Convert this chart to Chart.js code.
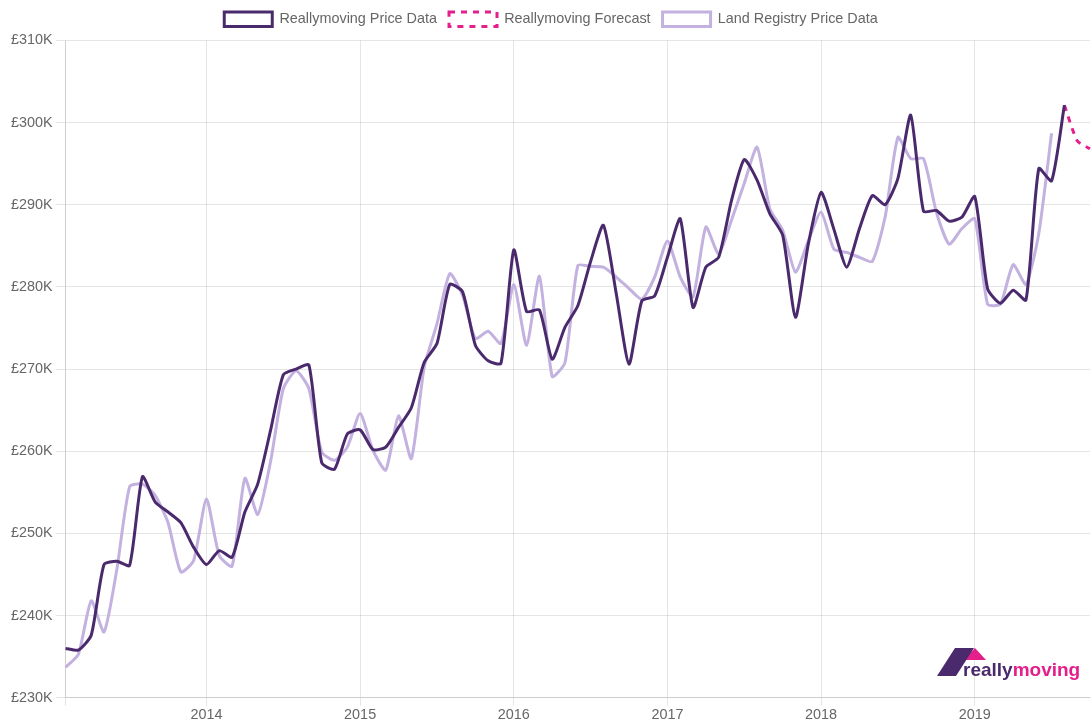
<!DOCTYPE html>
<html>
<head>
<meta charset="utf-8">
<script src="https://cdn.jsdelivr.net/npm/chart.js@4.4.0/dist/chart.umd.min.js"></script>
<style>
  html, body { margin: 0; padding: 0; background: #fff; overflow: hidden; }
  #wrap { position: relative; width: 1091px; height: 723px; }
  #logo { position: absolute; left: 936px; top: 645px; width: 150px; height: 40px; }
  #logo svg { position: absolute; left: 0; top: 0; }
  #logo .txt { position: absolute; left: 27px; top: 13px; font-family: "Liberation Sans", Arial, sans-serif; font-weight: bold; font-size: 19px; letter-spacing: 0px; line-height: 24px; white-space: nowrap; }
  #logo .r { color: #4a2a6d; }
  #logo .m { color: #e41f8c; }
</style>
</head>
<body>
<div id="wrap">
  <canvas id="c" width="1091" height="723"></canvas>
  <div id="logo">
    <svg width="60" height="36" viewBox="0 0 60 36">
      <polygon points="39,3 50,15 28,15" fill="#e41f8c"/>
      <polygon points="1,31 19,3 38,3 20,31" fill="#4a2a6d"/>
    </svg>
    <div class="txt"><span class="r">really</span><span class="m">moving</span></div>
  </div>
</div>
<script>
const labels = [
 "Feb 2013","Mar 2013","Apr 2013","May 2013","Jun 2013","Jul 2013","Aug 2013","Sep 2013","Oct 2013","Nov 2013","Dec 2013",
 "Jan 2014","Feb 2014","Mar 2014","Apr 2014","May 2014","Jun 2014","Jul 2014","Aug 2014","Sep 2014","Oct 2014","Nov 2014","Dec 2014",
 "Jan 2015","Feb 2015","Mar 2015","Apr 2015","May 2015","Jun 2015","Jul 2015","Aug 2015","Sep 2015","Oct 2015","Nov 2015","Dec 2015",
 "Jan 2016","Feb 2016","Mar 2016","Apr 2016","May 2016","Jun 2016","Jul 2016","Aug 2016","Sep 2016","Oct 2016","Nov 2016","Dec 2016",
 "Jan 2017","Feb 2017","Mar 2017","Apr 2017","May 2017","Jun 2017","Jul 2017","Aug 2017","Sep 2017","Oct 2017","Nov 2017","Dec 2017",
 "Jan 2018","Feb 2018","Mar 2018","Apr 2018","May 2018","Jun 2018","Jul 2018","Aug 2018","Sep 2018","Oct 2018","Nov 2018","Dec 2018",
 "Jan 2019","Feb 2019","Mar 2019","Apr 2019","May 2019","Jun 2019","Jul 2019","Aug 2019","Sep 2019","Oct 2019"
];

// values in £ thousands
const reallymovingPrice = [
 236.0,235.8,237.6,246.2,246.6,246.1,256.9,253.8,252.6,251.3,248.3,
 246.2,247.9,247.1,252.6,256.0,262.5,269.3,270.0,270.5,258.6,257.8,262.1,
 262.6,260.2,260.5,262.9,265.3,270.8,273.1,280.3,279.4,272.9,271.0,270.7,
 284.5,277.0,277.2,271.2,275.1,277.7,283.1,287.5,279.2,270.6,278.3,278.9,
 283.6,288.3,277.5,282.4,283.6,290.5,295.5,293.0,288.9,286.3,276.3,285.2,
 291.5,287.0,282.4,287.1,291.1,290.0,293.2,300.9,289.2,289.3,288.0,288.5,
 291.0,279.8,278.0,279.6,278.4,294.4,292.9,302.1,null,null
];

const reallymovingForecast = [
 null,null,null,null,null,null,null,null,null,null,null,
 null,null,null,null,null,null,null,null,null,null,null,null,
 null,null,null,null,null,null,null,null,null,null,null,null,
 null,null,null,null,null,null,null,null,null,null,null,null,
 null,null,null,null,null,null,null,null,null,null,null,null,
 null,null,null,null,null,null,null,null,null,null,null,null,
 null,null,null,null,null,null,null,302.1,297.8,296.8
];

const landRegistryPrice = [
 233.7,235.3,241.8,238.0,245.6,255.7,256.0,254.6,251.3,245.3,246.7,
 254.2,247.3,246.0,256.7,252.3,258.7,267.6,269.8,267.6,259.9,258.9,260.5,
 264.6,260.1,257.7,264.3,259.1,270.2,275.5,281.6,279.0,273.7,274.6,273.1,
 280.3,272.9,281.3,269.1,270.8,282.6,282.5,282.4,281.2,279.8,278.5,281.2,
 285.6,281.2,278.8,287.3,284.0,288.1,292.6,297.0,289.5,286.9,281.8,285.6,
 289.1,284.6,284.2,283.6,283.1,288.5,298.2,295.6,295.6,289.1,285.2,287.1,
 288.3,277.9,277.9,282.7,280.3,286.5,298.7,null,null,null
];

const yTicks = { min: 230, max: 310, step: 10 };

const FONT = "'Liberation Sans', Arial, Helvetica, sans-serif";
const GRID = 'rgba(0,0,0,0.1)';

const legendMargin = {
  id: 'legendMargin',
  beforeInit(chart) {
    const origFit = chart.legend.fit;
    chart.legend.fit = function () {
      origFit.bind(chart.legend)();
      this.height += 4;
    };
  }
};

new Chart(document.getElementById('c'), {
  type: 'line',
  data: {
    labels: labels,
    datasets: [
      { label: 'Reallymoving Price Data', data: reallymovingPrice, borderColor: '#4a2a6d', backgroundColor: 'rgba(255,255,255,0)', borderWidth: 3, pointRadius: 0, tension: 0.2, fill: false },
      { label: 'Reallymoving Forecast', data: reallymovingForecast, borderColor: '#e41f8c', backgroundColor: 'rgba(255,255,255,0)', borderWidth: 3, borderDash: [6, 6], pointRadius: 0, tension: 0.2, fill: false },
      { label: 'Land Registry Price Data', data: landRegistryPrice, borderColor: '#c3b1df', backgroundColor: 'rgba(255,255,255,0)', borderWidth: 3, pointRadius: 0, tension: 0.2, fill: false }
    ]
  },
  plugins: [legendMargin],
  options: {
    responsive: false,
    animation: false,
    layout: { padding: { left: 8, right: -3, top: 0, bottom: -2 } },
    plugins: {
      tooltip: { enabled: false },
      legend: {
        position: 'top',
        labels: { font: { family: FONT, size: 14.4 }, color: '#666', boxWidth: 48, boxHeight: 14.4, padding: 12 }
      }
    },
    scales: {
      x: {
        type: 'category',
        offset: false,
        border: { display: true, color: GRID },
        grid: {
          color: (ctx) => (ctx.tick && labels[ctx.index] && labels[ctx.index].startsWith('Jan')) || ctx.index === 0 ? GRID : 'rgba(0,0,0,0)',
          tickLength: 8,
          drawTicks: true
        },
        ticks: {
          autoSkip: false, maxRotation: 0, minRotation: 0, padding: 1,
          color: '#666', font: { family: FONT, size: 14.4 },
          callback: function(v, i) { const l = labels[i]; return l.startsWith('Jan') ? l.split(' ')[1] : ''; }
        }
      },
      y: {
        min: yTicks.min, max: yTicks.max,
        border: { display: true, color: GRID },
        grid: { color: GRID, tickLength: 10 },
        ticks: {
          stepSize: yTicks.step, padding: 3,
          color: '#666', font: { family: FONT, size: 14.4 },
          callback: (v) => '£' + v + 'K'
        }
      }
    }
  }
});
</script>
</body>
</html>
